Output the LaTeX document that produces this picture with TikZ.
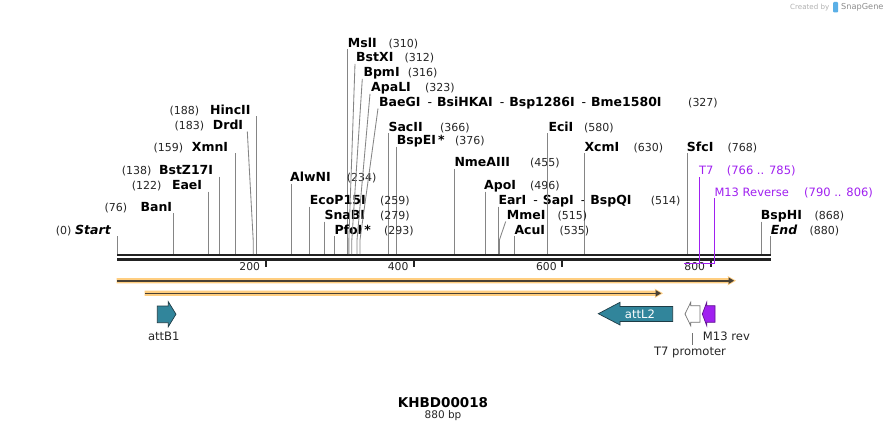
\documentclass[tikz,border=0pt]{standalone}
\usepackage{fontspec}
\setmainfont{DejaVu Sans}
\usetikzlibrary{calc}
\begin{document}
\begin{tikzpicture}[x=1pt, y=-1pt,
    enzname/.style={font=\fontsize{12.5}{14}\selectfont\bfseries, inner sep=0pt},
    enzpos/.style={font=\fontsize{11}{13}\selectfont, inner sep=0pt, text=black!85},
    cutline/.style={draw=black!48, line width=0.85pt},
    primerlbl/.style={font=\fontsize{11.5}{13}\selectfont, inner sep=0pt, text=primercolor},
    primerline/.style={draw=primercolor, line width=1.4pt},
    featlbl/.style={font=\fontsize{11.6}{13}\selectfont, inner sep=0pt, text=black!85},
    feature/.style={line width=0.7pt, line join=miter}]

    % colours
    \definecolor{rulercolor}{RGB}{34,34,34}
    \definecolor{primercolor}{RGB}{160,32,240}
    \definecolor{attcolor}{RGB}{49,133,155}
    \definecolor{attdark}{RGB}{30,60,70}
    \definecolor{orfglow}{RGB}{255,206,128}
    \definecolor{orfline}{RGB}{72,64,52}
    \definecolor{logoblue}{RGB}{90,175,230}

    \useasboundingbox[fill=white] (0,0) rectangle (888,433);

    % watermark
    \node[font=\fontsize{7.1}{8}\selectfont, text=black!30, inner sep=0pt, anchor=base west] (madeby) at (790,9.5) {Created by};
    \fill[logoblue, rounded corners=1pt] (833,2) rectangle (838,12.5);
    \node[font=\fontsize{8.2}{9}\selectfont, text=black!45, inner sep=0pt, anchor=base west] (sgname) at (841,10) {SnapGene};

    % sites on the ruler
    \foreach \bp in {0,76,122,138,159,183,188,234,259,279,293,310,312,316,323,327,366,376,455,496,514,515,535,580,630,768,868,880}{
        \coordinate (s\bp) at ({117.5+0.7415*\bp},254);
        \coordinate (k\bp) at ({117.5+0.7415*\bp},240);
    }

    % sequence ruler, 880 bp
    \draw[rulercolor, line width=2.6pt] (117.3,255) -- (770.7,255);
    \draw[rulercolor, line width=2.2pt] (117.3,259.5) -- (770.7,259.5);
    \foreach \t in {200,400,600,800}{
        \coordinate (tk\t) at ({117.5+0.7415*\t},260.5);
        \draw[rulercolor, line width=2pt] (tk\t) -- ++(0,6.5);
        \node[enzpos, font=\fontsize{10.8}{12}\selectfont, anchor=base east] (tl\t) at ($(tk\t)+(-5.5,10.2)$) {\t};
    }

    % enzymes labelled on the left
    \foreach \bp/\nm/\nx/\px/\yc in {0/{\itshape Start}/111/71.7/229.5, 76/BanI/172.3/127.3/206.7,
            122/EaeI/202.3/161.7/185, 138/BstZ17I/213.3/151.7/170,
            159/XmnI/228.3/183.3/146.7, 188/HincII/250.7/199.3/110}{
        \node[enzname, anchor=base east] (n\bp) at (\nx,\yc+4.5) {\nm};
        \node[enzpos, anchor=base east] (p\bp) at (\px,\yc+4.5) {(\bp)};
        \draw[cutline] ($(s\bp |- n\bp.base)+(0,2)$) -- (s\bp);
    }
    \node[enzname, anchor=base east] (n183) at (243.3,129.5) {DrdI};
    \node[enzpos, anchor=base east] (p183) at (204.3,129.5) {(183)};
    \draw[cutline] ($(n183.base east)+(4,2)$) -- (k183) -- (s183);

    % enzymes labelled on the right
    \foreach \bp/\nm/\nx/\px/\yc in {310/MslI/347.7/388.3/42.7, 366/SacII/388.3/440/126.7,
            376/{BspEI\,*}/396.7/455/140, 455/NmeAIII/454.3/530/162.3,
            234/AlwNI/290/346.7/177.3, 496/ApoI/484/530/185, 259/EcoP15I/309.7/380/200,
            514/{EarI\hspace{7pt}{\mdseries -}\hspace{5pt}SapI\hspace{7pt}{\mdseries -}\hspace{5pt}BspQI}/498.3/650.7/200,
            279/SnaBI/324.3/380/215, 293/{PfoI\,*}/334.3/384/229.5, 535/AcuI/514.3/559.3/229.5,
            580/EciI/548.3/584/126.7, 630/XcmI/584.3/633.3/146.7, 768/SfcI/686.7/727.3/146.7,
            868/BspHI/760.7/814.3/215, 880/{\itshape End}/770.7/809.3/229.5}{
        \node[enzname, anchor=base west] (n\bp) at (\nx,\yc+4.5) {\nm};
        \node[enzpos, anchor=base west] (p\bp) at (\px,\yc+4.5) {(\bp)};
        \draw[cutline] ($(s\bp |- n\bp.base)+(0,2)$) -- (s\bp);
    }

    % crowded enzymes, lines bent towards the site
    \foreach \bp/\nm/\nx/\px/\yc in {312/BstXI/356/404.3/57.3, 316/BpmI/363.3/407.7/72.3,
            323/ApaLI/371/425/87.3,
            327/{BaeGI\hspace{7pt}{\mdseries -}\hspace{5pt}BsiHKAI\hspace{7pt}{\mdseries -}\hspace{5pt}Bsp1286I\hspace{7pt}{\mdseries -}\hspace{5pt}Bme1580I}/379/688/102,
            515/MmeI/506.7/557.3/215}{
        \node[enzname, anchor=base west] (n\bp) at (\nx,\yc+4.5) {\nm};
        \node[enzpos, anchor=base west] (p\bp) at (\px,\yc+4.5) {(\bp)};
        \draw[cutline] ($(n\bp.base west)+(-1,2)$) -- (k\bp) -- (s\bp);
    }

    % primers
    \node[primerlbl, anchor=base west] (t7) at (699,174.5) {T7};
    \node[primerlbl, anchor=base west] (t7pos) at (726.7,174.5) {(766 .. 785)};
    \node[primerlbl, anchor=base west] (m13r) at (714.3,196.2) {M13 Reverse};
    \node[primerlbl, anchor=base west] (m13rpos) at (804,196.2) {(790 .. 806)};
    \coordinate (t7a) at (684.3,263.7);
    \coordinate (t7b) at (699.3,263.7);
    \coordinate (m13a) at (700.7,263.7);
    \coordinate (m13b) at (714.3,263.7);
    \draw[primerline] (t7a) -- (t7b) -- ($(t7b |- t7.base)+(0,2)$);
    \draw[primerline] (m13a) -- (m13b) -- ($(m13b |- m13r.base)+(0,2)$);

    % open reading frames
    \foreach \yy/\xa/\xb in {280.7/117/728.5, 293.3/145/655.5}{
        \fill[orfglow] (\xa-0.5,\yy-2.6) -- (\xb,\yy-2.6) -- (\xb-1,\yy-4.8) -- (\xb+7.5,\yy) -- (\xb-1,\yy+4.8) -- (\xb,\yy+2.6) -- (\xa-0.5,\yy+2.6) -- cycle;
        \draw[orfline, line width=1.6pt] (\xa,\yy) -- (\xb,\yy);
        \fill[orfline] (\xb,\yy-3.3) -- (\xb+5.5,\yy) -- (\xb,\yy+3.3) -- cycle;
    }

    % features
    \draw[feature, draw=attdark, fill=attcolor] (157.3,306) -- (168.3,306) -- (168.3,301.7) -- (176,314.2)
        -- (168.3,326.7) -- (168.3,322.7) -- (157.3,322.7) -- cycle;
    \draw[feature, draw=attdark, fill=attcolor] (672.7,306.5) -- (620,306.5) -- (620,302.3) -- (598.3,313.7)
        -- (620,325) -- (620,321.5) -- (672.7,321.5) -- cycle;
    \draw[feature, draw=black!55, fill=white] (700,305.7) -- (690.7,305.7) -- (690.7,302.3) -- (685,314)
        -- (690.7,325.7) -- (690.7,322.3) -- (700,322.3) -- cycle;
    \draw[feature, draw=primercolor!60!black, fill=primercolor] (715,305.7) -- (706.7,305.7) -- (706.7,302.3) -- (702.3,314)
        -- (706.7,325.7) -- (706.7,322.3) -- (715,322.3) -- cycle;

    \node[featlbl, anchor=base] (attb1) at (163.8,340) {attB1};
    \node[featlbl, anchor=base, text=white] (attl2) at (640,318) {attL2};
    \node[featlbl, anchor=base west] (m13rev) at (702.7,340) {M13 rev};
    \node[featlbl, anchor=base] (t7prom) at (690,355) {T7 promoter};
    \coordinate (t7pbase) at (692.3,333.3);
    \draw[black!55, line width=0.8pt] (t7pbase) -- ($(t7pbase |- t7prom.north)+(0,-1.5)$);

    % name and length
    \node[font=\fontsize{13.5}{15}\selectfont\bfseries, inner sep=0pt, anchor=base] (title) at (443,407.3) {KHBD00018};
    \node[font=\fontsize{10.5}{12}\selectfont, inner sep=0pt, anchor=base, text=black!85] (len) at (443,418.3) {880 bp};
\end{tikzpicture}
\end{document}
